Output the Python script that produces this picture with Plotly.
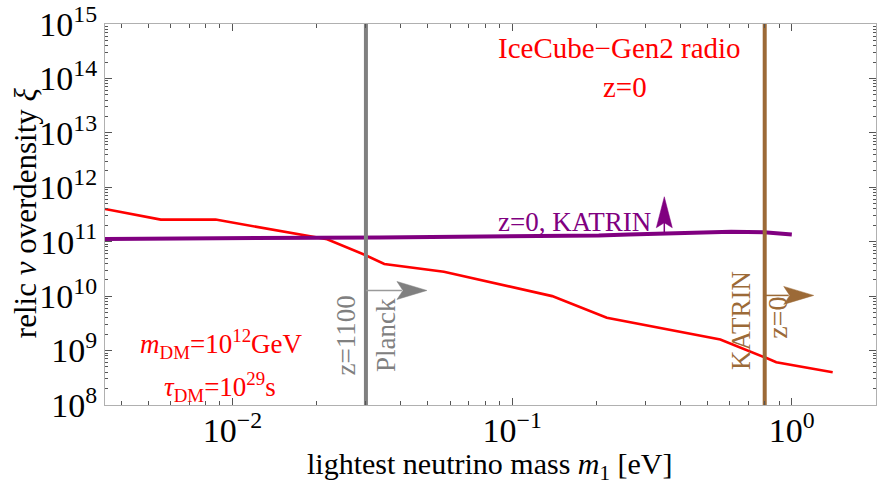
import math
import plotly.graph_objects as go

# ---------------- data ----------------
red_m1 = [0.0035, 0.00554, 0.0087, 0.0218, 0.0298, 0.0349, 0.057, 0.139, 0.218, 0.555, 0.80, 0.88, 1.40]
red_xi = [4.0e11, 2.55e11, 2.55e11, 1.11e11, 5.7e10, 3.9e10, 2.8e10, 1.0e10, 4.0e9, 1.6e9, 7.5e8, 6.1e8, 4.0e8]

purple_m1 = [0.0035, 0.0174, 0.0335, 0.204, 0.261, 0.607, 0.795, 1.0]
purple_xi = [1.125e11, 1.17e11, 1.2e11, 1.30e11, 1.36e11, 1.52e11, 1.49e11, 1.35e11]

planck_m1 = 0.03
katrin_m1 = 0.80

x_tickvals = [0.01, 0.1, 1.0]
x_ticktext = ["10<sup>\u22122</sup>", "10<sup>\u22121</sup>", "10<sup>0</sup>"]
y_tickvals = [1e8, 1e9, 1e10, 1e11, 1e12, 1e13, 1e14, 1e15]
y_ticktext = ["10<sup>%d</sup>" % k for k in range(8, 16)]

x_range = [0.0035, 2.0]
y_range = [1e8, 1e15]

# arrow anchors
planck_arrow_y = 1.27e10
katrin_arrow_y = 1.03e10
purple_arrow_x = 0.350
purple_arrow_y = 1.4e11

RED = "#ff0000"
PURPLE = "#800080"
GRAY = "#808080"
BROWN = "#9c6a37"
FONT = "Liberation Serif"

x_minor = [m * 10.0 ** k for k in range(-3, 1) for m in range(2, 10)]
y_minor = [m * 10.0 ** k for k in range(8, 15) for m in range(2, 10)]

fig = go.Figure()

fig.add_trace(go.Scatter(x=red_m1, y=red_xi, mode="lines",
                         line=dict(color=RED, width=2.6), hoverinfo="skip"))
fig.add_trace(go.Scatter(x=purple_m1, y=purple_xi, mode="lines",
                         line=dict(color=PURPLE, width=4), hoverinfo="skip"))
fig.add_trace(go.Scatter(x=[planck_m1, planck_m1], y=y_range, mode="lines",
                         line=dict(color=GRAY, width=4), hoverinfo="skip"))
fig.add_trace(go.Scatter(x=[katrin_m1, katrin_m1], y=y_range, mode="lines",
                         line=dict(color=BROWN, width=4), hoverinfo="skip"))

L = math.log10


def arrow_shapes(xa, ya, stem, head, color, stem_color, stem_w):
    # shape anchors on log axes are given in data units
    return [
        dict(type="path", xref="x", yref="y", xsizemode="pixel", ysizemode="pixel",
             xanchor=xa, yanchor=ya, path=stem,
             line=dict(color=stem_color, width=stem_w)),
        dict(type="path", xref="x", yref="y", xsizemode="pixel", ysizemode="pixel",
             xanchor=xa, yanchor=ya, path=head,
             fillcolor=color, line=dict(color=color, width=0.5)),
    ]


shapes = []
shapes += arrow_shapes(planck_m1, planck_arrow_y, "M0,0 L36,0",
                       "M61,0 L31,9 L37,0 L31,-9 Z", GRAY, "#9a9a9a", 1.5)
shapes += arrow_shapes(katrin_m1, katrin_arrow_y, "M0,0 L24,0",
                       "M49,0 L19,9 L25,0 L19,-9 Z", BROWN, BROWN, 1.5)
shapes += arrow_shapes(purple_arrow_x, purple_arrow_y, "M0,0 L0,12",
                       "M0,37 L-8,6 L0,11 L8,6 Z", PURPLE, PURPLE, 1.5)


def data_note(text, x, y, size, color, angle=0):
    return dict(text=text, x=L(x), y=L(y), xref="x", yref="y", textangle=angle,
                xanchor="center", yanchor="middle", showarrow=False,
                font=dict(family=FONT, size=size, color=color))


annotations = [
    data_note("IceCube\u2212Gen2 radio", 0.242, 3.6e14, 29, RED),
    data_note("z=0", 0.254, 7.0e13, 29, RED),
    data_note("z=0, KATRIN", 0.1667, 2.3e11, 27, PURPLE),
    data_note("<i>m</i><sub>DM</sub>=10<sup>12</sup>GeV", 0.0091, 1.3e9, 27, RED),
    data_note("<i>\u03c4</i><sub>DM</sub>=10<sup>29</sup>s", 0.009, 2.15e8, 27, RED),
    data_note("z=1100", 0.0254, 1.87e9, 27, GRAY, -90),
    data_note("Planck", 0.0352, 1.95e9, 27, GRAY, -90),
    data_note("KATRIN", 0.659, 3.5e9, 27, BROWN, -90),
    data_note("z=0", 0.893, 4.0e9, 28, BROWN, -90),
    dict(text="relic <i>\u03bd</i> overdensity <i>\u03be</i>", x=-0.103, y=0.505,
         xref="paper", yref="paper", textangle=-90, showarrow=False,
         xanchor="center", yanchor="middle",
         font=dict(family=FONT, size=31, color="black")),
    dict(text="lightest neutrino mass <i>m</i><sub>1</sub> [eV]", x=0.499, y=-0.16,
         xref="paper", yref="paper", showarrow=False,
         xanchor="center", yanchor="middle",
         font=dict(family=FONT, size=30, color="black")),
]

axis_common = dict(
    type="log", showgrid=False, zeroline=False,
    showline=True, linecolor="#b0b0b0", linewidth=1.2, mirror="allticks",
    ticks="inside", ticklen=7, tickcolor="#555555", tickwidth=1,
    tickfont=dict(family=FONT, size=34, color="black"),
    ticklabeloverflow="allow",
)

fig.update_layout(
    width=878, height=490,
    margin=dict(l=105, r=1, t=18, b=85),
    paper_bgcolor="white", plot_bgcolor="white",
    showlegend=False,
    xaxis=dict(range=[L(x_range[0]), L(x_range[1])], tickvals=x_tickvals, ticktext=x_ticktext,
               minor=dict(tickvals=x_minor, ticks="inside", ticklen=4, tickcolor="#555555"),
               ticklabelstandoff=-5,
               **axis_common),
    yaxis=dict(range=[L(y_range[0]) - 0.001, L(y_range[1]) + 0.001],
               tickvals=y_tickvals, ticktext=y_ticktext,
               minor=dict(tickvals=y_minor, ticks="inside", ticklen=3, tickcolor="#555555"),
               **axis_common),
    shapes=shapes,
    annotations=annotations,
)

fig.write_html("out.html", config={"displayModeBar": False},
               post_script="document.body.style.margin='0';document.body.style.padding='0';")
